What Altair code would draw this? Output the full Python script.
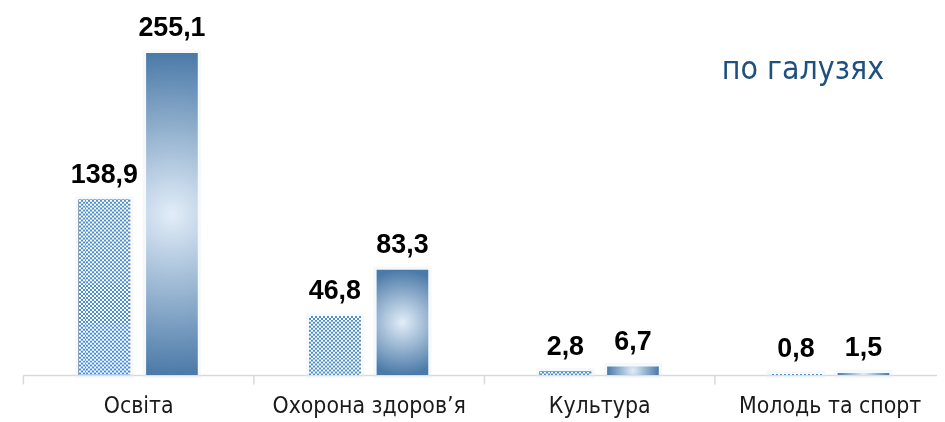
import altair as alt
import pandas as pd

categories = ["Освіта", "Охорона здоров’я", "Культура", "Молодь та спорт"]
series_names = ["a", "b"]
values_a = [138.9, 46.8, 2.8, 0.8]
values_b = [255.1, 83.3, 6.7, 1.5]
labels_a = ["138,9", "46,8", "2,8", "0,8"]
labels_b = ["255,1", "83,3", "6,7", "1,5"]
title_text = "по галузях"

NARROW = "DejaVu Sans Condensed, Roboto Condensed, Liberation Sans Narrow, Roboto"

rows = []
for c, v, l in zip(categories, values_a, labels_a):
    rows.append({"category": c, "series": "a", "value": v, "label": l})
for c, v, l in zip(categories, values_b, labels_b):
    rows.append({"category": c, "series": "b", "value": v, "label": l})
df = pd.DataFrame(rows)

x_enc = alt.X(
    "category:N",
    sort=categories,
    scale=alt.Scale(range=[0, 928], paddingInner=0, paddingOuter=0),
    axis=alt.Axis(
        title=None, labelAngle=0, grid=False,
        domainColor="#d9d9d9", domainWidth=1.5,
        tickColor="#d9d9d9", tickWidth=1.5, tickSize=9, tickBand="extent",
        labelFont=NARROW, labelFontSize=23, labelColor="#1a1a1a",
        labelPadding=11, labelLimit=0,
    ),
)
xo_enc = alt.XOffset(
    "series:N",
    sort=series_names,
    scale=alt.Scale(domain=series_names, paddingInner=16 / 68, paddingOuter=112 / 136),
)
y_enc = alt.Y("value:Q", scale=alt.Scale(domain=[0, 283.44]), axis=None)

base = alt.Chart(df).encode(x=x_enc, xOffset=xo_enc, y=y_enc)

stops = []
for i in range(26):
    col = "black" if i % 2 == 0 else "white"
    stops.append({"offset": i / 26, "color": col})
    stops.append({"offset": (i + 1) / 26, "color": col})
stripe_grad = {"gradient": "linear", "x1": 0, "y1": 0, "x2": 1, "y2": 0, "stops": stops}

radial = {
    "gradient": "radial", "x1": 0.5, "y1": 0.5, "x2": 0.5, "y2": 0.5, "r1": 0, "r2": 0.5,
    "stops": [
        {"offset": 0, "color": "#e2edf8"},
        {"offset": 1, "color": "#4b7aa8"},
    ],
}

glow = base.mark_bar(fill="#e3ecf6", stroke="#e3ecf6", strokeWidth=7, opacity=0.3, xOffset=-2)
hatch_a = base.transform_filter(alt.datum.series == "a").mark_bar(fill=stripe_grad)
hatch_b = base.transform_filter(alt.datum.series == "a").mark_rule(
    stroke="white", strokeWidth=52, strokeDash=[2, 2], blend="difference"
).encode(y2=alt.datum(0))
hatch_c = base.transform_filter(alt.datum.series == "a").mark_bar(fill="#4a8fd8", blend="screen")
grad_bars = base.transform_filter(alt.datum.series == "b").mark_bar(fill=radial)
texts = base.mark_text(
    font="Liberation Sans", fontWeight="bold", fontSize=27, dy=-17,
    baseline="alphabetic", color="black",
).encode(text="label:N")

chart = alt.layer(glow, hatch_a, hatch_b, hatch_c, grad_bars, texts).properties(
    width=920,
    height=360,
    padding={"left": 15, "top": 8, "right": 0, "bottom": 44},
    autosize="none",
    background="white",
    title=alt.TitleParams(
        title_text, anchor="end", font=NARROW, fontSize=32,
        fontWeight="normal", color="#1f5080", dx=-62, dy=76,
    ),
).configure_view(stroke=None)

chart.save("out.html", embed_options={"renderer": "svg", "actions": False})
